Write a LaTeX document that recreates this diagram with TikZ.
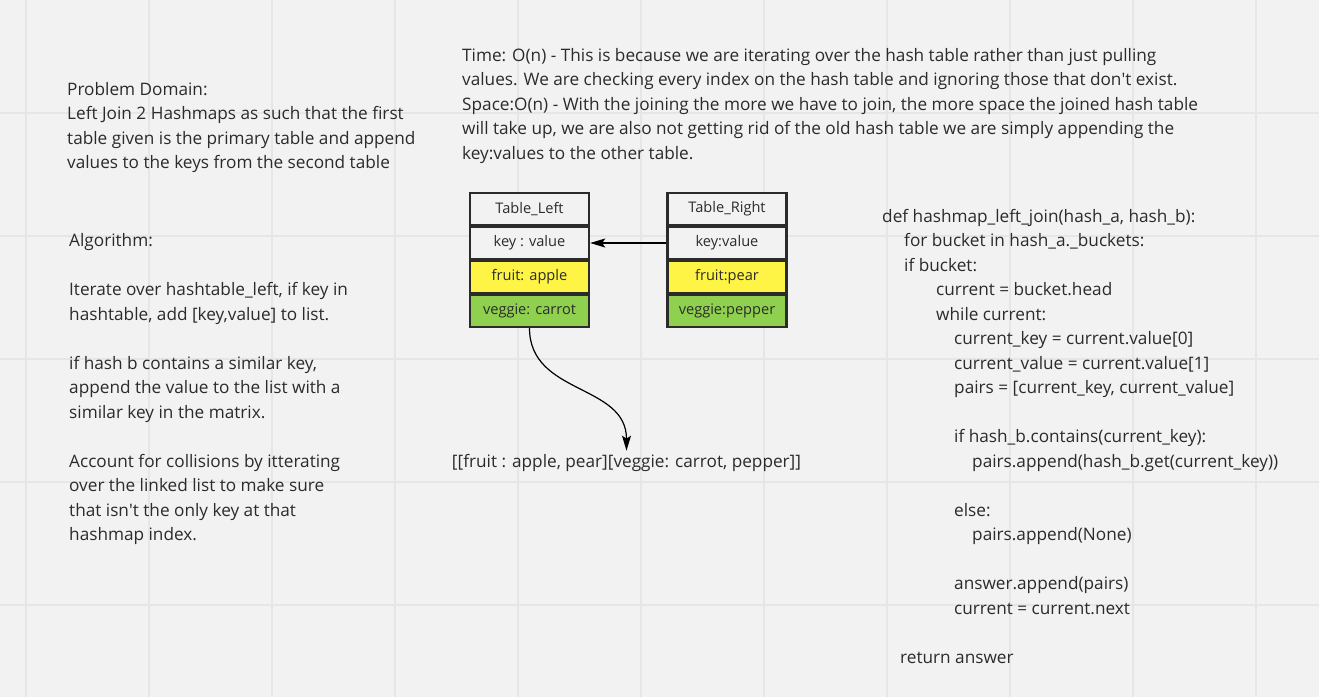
\documentclass[tikz,border=0pt]{standalone}
\usepackage{fontspec}
\setmainfont{Open Sans}
\usepackage{tikz}
\usetikzlibrary{positioning,arrows.meta}

\definecolor{boardbg}{HTML}{F2F2F2}
\definecolor{gridline}{HTML}{E6E6E6}
\definecolor{inkgray}{HTML}{2B2B2B}
\definecolor{cellyellow}{HTML}{FEF445}
\definecolor{cellgreen}{HTML}{8FD14F}

\begin{document}
\begin{tikzpicture}[x=1pt,y=-1pt,
		note/.style={anchor=base west, inner sep=0pt, align=left, text=inkgray,
			font=\fontsize{17.2}{24.5}\selectfont},
		cell/.style={draw=inkgray, line width=2.4pt, minimum width=119pt,
			minimum height=31.6pt, inner sep=0pt, fill=boardbg, text=inkgray,
			font=\fontsize{14.6}{17}\selectfont},
		keycell/.style={cell},
		fruitcell/.style={cell, fill=cellyellow},
		veggiecell/.style={cell, fill=cellgreen},
		link/.style={draw=black, line width=1.2pt, -{Stealth[length=15pt,width=9pt,inset=3pt]}}
	]
	\useasboundingbox (0,0) rectangle (1319,697);
	\fill[boardbg] (0,0) rectangle (1319,697);
	\foreach \gx in {26,149,...,1256}
		\draw[gridline, line width=1.2pt] (\gx,0) -- (\gx,697);
	\foreach \gy in {113,236,...,605}
		\draw[gridline, line width=1.2pt] (0,\gy) -- (1319,\gy);

	% notes are placed at the baseline of their last line
	\node[note] (domain) at (67,168.5) {Problem Domain:\\
		Left Join 2 Hashmaps as such that the first\\
		table given is the primary table and append\\
		values to the keys from the second table};

	\node[note] (algo) at (69,540.5) {Algorithm:\\ \mbox{}\\
		Iterate over hashtable\_left, if key in\\
		hashtable, add [key,value] to list.\\ \mbox{}\\
		if hash b contains a similar key,\\
		append the value to the list with a\\
		similar key in the matrix.\\ \mbox{}\\
		Account for collisions by itterating\\
		over the linked list to make sure\\
		that isn\textquotesingle t the only key at that\\
		hashmap index.};

	\node[note] (cost) at (462,159) {Time: O(n) - This is because we are iterating over the hash table rather than just pulling\\
		values. We are checking every index on the hash table and ignoring those that don\textquotesingle t exist.\\
		Space:O(n) - With the joining the more we have to join, the more space the joined hash table\\
		will take up, we are also not getting rid of the old hash table we are simply appending the\\
		key:values to the other table.};

	% tables
	\node[cell] (lefthead) at (529.5,209) {Table\_Left};
	\node[keycell, below=0pt of lefthead] (leftkey) {key : value};
	\node[fruitcell, below=0pt of leftkey] (leftfruit) {fruit: apple};
	\node[veggiecell, below=0pt of leftfruit] (leftveggie) {veggie: carrot};

	\node[cell] (righthead) at (727,209) {Table\_Right};
	\node[keycell, below=0pt of righthead] (rightkey) {key:value};
	\node[fruitcell, below=0pt of rightkey] (rightfruit) {fruit:pear};
	\node[veggiecell, below=0pt of rightfruit] (rightveggie) {veggie:pepper};

	\node[note, anchor=base, inner sep=3pt] (joined) at (626.5,467) {[[fruit : apple, pear][veggie: carrot, pepper]]};

	\draw[link] (rightkey.west) -- (leftkey.east);
	\draw[link] (leftveggie.south) to[out=-90, in=90, looseness=1.1] (joined.north);

	% code
	\node[note] (code) at (882,663) {def hashmap\_left\_join(hash\_a, hash\_b):\\
		\hspace*{22pt}for bucket in hash\_a.\_buckets:\\
		\hspace*{22pt}if bucket:\\
		\hspace*{54pt}current = bucket.head\\
		\hspace*{54pt}while current:\\
		\hspace*{72pt}current\_key = current.value[0]\\
		\hspace*{72pt}current\_value = current.value[1]\\
		\hspace*{72pt}pairs = [current\_key, current\_value]\\ \mbox{}\\
		\hspace*{72pt}if hash\_b.contains(current\_key):\\
		\hspace*{90pt}pairs.append(hash\_b.get(current\_key))\\ \mbox{}\\
		\hspace*{72pt}else:\\
		\hspace*{90pt}pairs.append(None)\\ \mbox{}\\
		\hspace*{72pt}answer.append(pairs)\\
		\hspace*{72pt}current = current.next\\ \mbox{}\\
		\hspace*{18pt}return answer};
\end{tikzpicture}
\end{document}
